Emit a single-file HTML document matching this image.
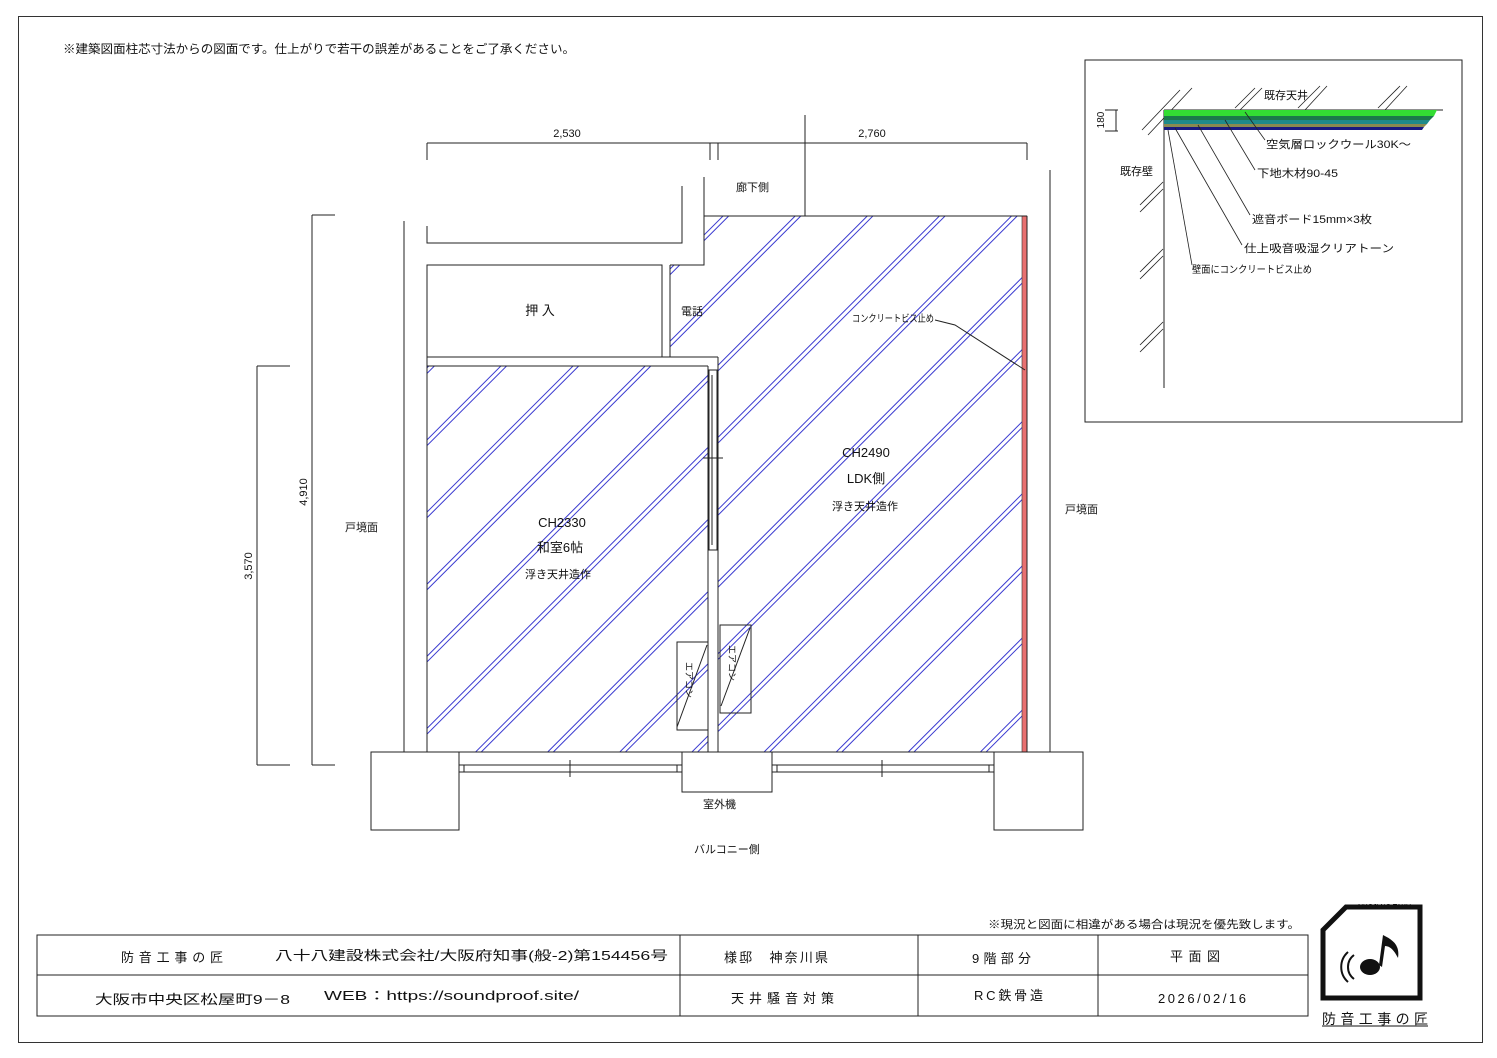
<!DOCTYPE html>
<html><head><meta charset="utf-8"><style>
html,body{margin:0;padding:0;background:#fff}
svg{display:block}
text{font-family:"Liberation Sans","Noto Sans CJK JP",sans-serif;fill:#111}
</style></head><body>
<svg width="1497" height="1058" viewBox="0 0 1497 1058" xmlns="http://www.w3.org/2000/svg">
<defs>
<pattern id="h" width="400" height="51" patternUnits="userSpaceOnUse" patternTransform="rotate(-45)">
<line x1="0" y1="1" x2="400" y2="1" stroke="#3a3ad0" stroke-width="1"/>
<line x1="0" y1="5" x2="400" y2="5" stroke="#3a3ad0" stroke-width="1"/>
</pattern>
</defs>
<rect x="18.5" y="16.5" width="1464" height="1026" fill="none" stroke="#333"/>
<text x="63" y="53" font-size="12" textLength="512" lengthAdjust="spacingAndGlyphs">※建築図面柱芯寸法からの図面です。仕上がりで若干の誤差があることをご了承ください。</text>

<rect x="427" y="366" width="281" height="386" fill="url(#h)"/>
<polygon points="704,216 1022,216 1022,752 718,752 718,357 670,357 670,265 704,265" fill="url(#h)"/>
<rect x="1022" y="216" width="5" height="536" fill="#e87070" stroke="#333" stroke-width="0.6"/>

<g stroke="#222" stroke-width="1" fill="none">
<line x1="427" y1="143" x2="1027" y2="143"/>
<line x1="427" y1="143" x2="427" y2="160"/>
<line x1="710" y1="143" x2="710" y2="160"/>
<line x1="718" y1="143" x2="718" y2="160"/>
<line x1="1027" y1="143" x2="1027" y2="160"/>
<line x1="805" y1="115" x2="805" y2="216"/>
<line x1="312" y1="215" x2="312" y2="765"/>
<line x1="312" y1="215" x2="335" y2="215"/>
<line x1="312" y1="765" x2="335" y2="765"/>
<line x1="257" y1="366" x2="257" y2="765"/>
<line x1="257" y1="366" x2="290" y2="366"/>
<line x1="257" y1="765" x2="290" y2="765"/>
<line x1="404" y1="221" x2="404" y2="752"/>
<line x1="1050" y1="170" x2="1050" y2="752"/>
<polyline points="427,226 427,243 682,243 682,186"/>
<polyline points="670,265 704,265 704,177"/>
<line x1="704" y1="216" x2="1027" y2="216"/>
<rect x="427" y="265" width="235" height="92"/>
<line x1="670" y1="265" x2="670" y2="357"/>
<line x1="427" y1="357" x2="718" y2="357"/>
<line x1="427" y1="366" x2="708" y2="366"/>
<line x1="427" y1="357" x2="427" y2="752"/>
<line x1="708" y1="366" x2="708" y2="752"/>
<line x1="718" y1="357" x2="718" y2="752"/>
<line x1="1027" y1="216" x2="1027" y2="752"/>
<line x1="427" y1="752" x2="682" y2="752"/>
<line x1="772" y1="752" x2="994" y2="752"/>
<rect x="709" y="370" width="8" height="180"/>
<line x1="712" y1="375" x2="712" y2="545"/>
<line x1="703" y1="458" x2="723" y2="458"/>
<rect x="677" y="642" width="31" height="88"/>
<line x1="677" y1="727" x2="707" y2="645"/>
<rect x="720" y="625" width="31" height="88"/>
<line x1="721" y1="706" x2="750" y2="628"/>
<rect x="371" y="752" width="88" height="78"/>
<rect x="994" y="752" width="89" height="78"/>
<rect x="682" y="752" width="90" height="40"/>
<line x1="459" y1="765" x2="682" y2="765"/>
<line x1="459" y1="772" x2="682" y2="772"/>
<line x1="772" y1="765" x2="994" y2="765"/>
<line x1="772" y1="772" x2="994" y2="772"/>
<line x1="464" y1="765" x2="464" y2="772"/>
<line x1="677" y1="765" x2="677" y2="772"/>
<line x1="777" y1="765" x2="777" y2="772"/>
<line x1="989" y1="765" x2="989" y2="772"/>
<line x1="570" y1="760" x2="570" y2="777"/>
<line x1="882" y1="760" x2="882" y2="777"/>
<polyline points="935,320 955,325 1025,370"/>
<rect x="37" y="935" width="1271" height="81"/>
<line x1="37" y1="975" x2="1308" y2="975"/>
<line x1="680" y1="935" x2="680" y2="1016"/>
<line x1="918" y1="935" x2="918" y2="1016"/>
<line x1="1098" y1="935" x2="1098" y2="1016"/>
<rect x="1085" y="60" width="377" height="362"/>
<line x1="1164" y1="110" x2="1164" y2="388"/>
<line x1="1164" y1="110" x2="1443" y2="110"/>
<line x1="1105" y1="110" x2="1118" y2="110"/>
<line x1="1105" y1="131" x2="1118" y2="131"/>
<line x1="1116" y1="110" x2="1116" y2="131"/>
</g>
<g stroke="#222" stroke-width="0.8">
<line x1="1142" y1="130" x2="1180" y2="90"/><line x1="1148" y1="135" x2="1192" y2="88"/>
<line x1="1235" y1="108" x2="1255" y2="88"/><line x1="1240" y1="110" x2="1262" y2="88"/>
<line x1="1298" y1="108" x2="1320" y2="86"/><line x1="1305" y1="110" x2="1327" y2="86"/>
<line x1="1378" y1="108" x2="1400" y2="86"/><line x1="1385" y1="110" x2="1407" y2="86"/>
<line x1="1140" y1="205" x2="1163" y2="182"/><line x1="1140" y1="212" x2="1163" y2="189"/>
<line x1="1140" y1="272" x2="1163" y2="249"/><line x1="1140" y1="279" x2="1163" y2="256"/>
<line x1="1140" y1="345" x2="1163" y2="322"/><line x1="1140" y1="352" x2="1163" y2="329"/>
</g>
<polygon points="1164,110 1437,110 1434,116 1164,116" fill="#33dd33"/>
<polygon points="1164,116 1434,116 1430,120 1164,120" fill="#1b7a4a"/>
<polygon points="1164,120 1430,120 1427,124 1164,124" fill="#1f8a8a"/>
<polygon points="1164,124 1427,124 1424,127 1164,127" fill="#8a8a50"/>
<polygon points="1164,127 1424,127 1422,130 1164,130" fill="#1a1a80"/>
<g stroke="#222" stroke-width="0.8" fill="none">
<line x1="1245" y1="112" x2="1265" y2="140"/>
<line x1="1225" y1="120" x2="1255" y2="170"/>
<line x1="1198" y1="125" x2="1250" y2="215"/>
<line x1="1175" y1="128" x2="1242" y2="245"/>
<line x1="1168" y1="130" x2="1192" y2="265"/>
</g>
<g font-size="11">
<text x="1264" y="99">既存天井</text>
<text x="1266" y="148" textLength="145" lengthAdjust="spacingAndGlyphs">空気層ロックウール30K～</text>
<text x="1257" y="177" textLength="81" lengthAdjust="spacingAndGlyphs">下地木材90-45</text>
<text x="1252" y="223" textLength="120" lengthAdjust="spacingAndGlyphs">遮音ボード15mm×3枚</text>
<text x="1244" y="252" textLength="150" lengthAdjust="spacingAndGlyphs">仕上吸音吸湿クリアトーン</text>
<text x="1192" y="273" font-size="10" textLength="120" lengthAdjust="spacingAndGlyphs">壁面にコンクリートビス止め</text>
<text x="1120" y="175">既存壁</text>
<text x="1104" y="120" transform="rotate(-90 1104 120)" font-size="10" text-anchor="middle">180</text>
</g>

<g font-size="11">
<text x="567" y="137" text-anchor="middle">2,530</text>
<text x="872" y="137" text-anchor="middle">2,760</text>
<text x="307" y="492" transform="rotate(-90 307 492)" text-anchor="middle">4,910</text>
<text x="252" y="566" transform="rotate(-90 252 566)" text-anchor="middle">3,570</text>
<text x="736" y="191">廊下側</text>
<text x="681" y="315">電話</text>
<text x="345" y="531">戸境面</text>
<text x="1065" y="513">戸境面</text>
<text x="703" y="808">室外機</text>
<text x="694" y="853">バルコニー側</text>
<text x="852" y="322" font-size="10" textLength="82" lengthAdjust="spacingAndGlyphs">コンクリートビス止め</text>
<text x="686" y="662" transform="rotate(90 686 662)" font-size="9">エアコン</text>
<text x="729" y="645" transform="rotate(90 729 645)" font-size="9">エアコン</text>
</g>
<text x="540" y="315" font-size="13" text-anchor="middle">押 入</text>
<g text-anchor="middle">
<text x="562" y="527" font-size="13">CH2330</text>
<text x="560" y="552" font-size="13">和室6帖</text>
<text x="558" y="578" font-size="11">浮き天井造作</text>
<text x="866" y="457" font-size="13">CH2490</text>
<text x="866" y="483" font-size="13">LDK側</text>
<text x="865" y="510" font-size="11">浮き天井造作</text>
</g>

<text x="988" y="928" font-size="11" textLength="312" lengthAdjust="spacingAndGlyphs">※現況と図面に相違がある場合は現況を優先致します。</text>
<g font-size="13">
<text x="121" y="962" textLength="102" lengthAdjust="spacing">防音工事の匠</text>
<text x="275" y="960" textLength="393" lengthAdjust="spacingAndGlyphs">八十八建設株式会社/大阪府知事(般-2)第154456号</text>
<text x="95" y="1004" textLength="195" lengthAdjust="spacingAndGlyphs">大阪市中央区松屋町9－8</text>
<text x="324" y="1000" textLength="255" lengthAdjust="spacingAndGlyphs">WEB：https://soundproof.site/</text>
<text x="724" y="962" textLength="104" lengthAdjust="spacing">様邸　神奈川県</text>
<text x="731" y="1003" textLength="103" lengthAdjust="spacing">天井騒音対策</text>
<text x="972" y="963" textLength="59" lengthAdjust="spacing">9階部分</text>
<text x="974" y="1000" textLength="69" lengthAdjust="spacing">RC鉄骨造</text>
<text x="1170" y="961" textLength="50" lengthAdjust="spacing">平面図</text>
<text x="1158" y="1003" textLength="88" lengthAdjust="spacing">2026/02/16</text>
</g>
<polygon points="1346,907 1420,907 1420,998 1323,998 1323,930" fill="none" stroke="#111" stroke-width="5"/>
<ellipse cx="1370" cy="967" rx="10" ry="8" fill="#111"/>
<path d="M1379,965 L1383,935 C1393,940 1400,945 1398,958 C1394,950 1390,946 1385,946 L1382,967 Z" fill="#111"/>
<path d="M1354,955 a15,15 0 0 0 0,24" fill="none" stroke="#111" stroke-width="2"/>
<path d="M1348,952 a20,20 0 0 0 0,30" fill="none" stroke="#111" stroke-width="2"/>
<text x="1358" y="909" font-size="7">NKOJI NO TAKU</text>
<text x="1322" y="1024" font-size="14" textLength="106" lengthAdjust="spacing">防音工事の匠</text>
<line x1="1322" y1="1026" x2="1428" y2="1026" stroke="#111"/>
</svg>
</body></html>
